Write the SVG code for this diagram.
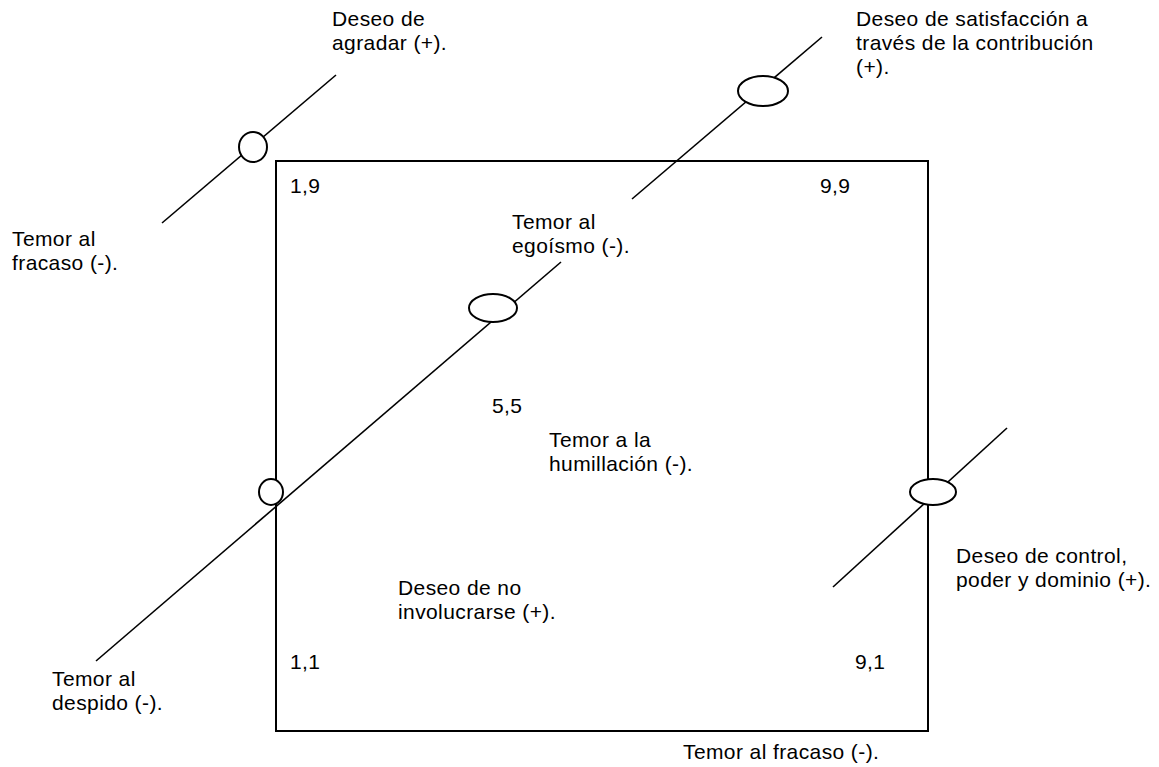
<svg xmlns="http://www.w3.org/2000/svg" width="1159" height="767" viewBox="0 0 1159 767">
<style>
text{font-family:"Liberation Sans",Arial,sans-serif;font-size:21px;letter-spacing:0.4px;fill:#000}
.ln{stroke:#000;stroke-width:1.6;fill:none}
.bx{stroke:#000;stroke-width:2;fill:none}
.el{stroke:#000;stroke-width:2;fill:#fff}
</style>
<rect width="1159" height="767" fill="#fff"/>
<g id="grid">
<rect class="bx" x="276" y="161" width="652" height="570"/>
</g>
<g id="connectors">
<line class="ln" x1="162" y1="223" x2="336" y2="75"/>
<line class="ln" x1="96" y1="661" x2="561" y2="262"/>
<line class="ln" x1="632" y1="199" x2="822" y2="37"/>
<line class="ln" x1="833" y1="587" x2="1007" y2="428"/>
</g>
<g id="node-agradar"><ellipse class="el" cx="253" cy="147" rx="14" ry="15"/></g>
<g id="node-contribucion"><ellipse class="el" cx="763" cy="91" rx="25" ry="15"/></g>
<g id="node-55"><ellipse class="el" cx="493" cy="308" rx="24" ry="14"/></g>
<g id="node-despido"><ellipse class="el" cx="271" cy="492" rx="12" ry="13"/></g>
<g id="node-control"><ellipse class="el" cx="933" cy="492" rx="23" ry="13"/></g>
<g id="labels">
<text x="332" y="26">Deseo de</text>
<text x="332" y="50">agradar (+).</text>
<text x="856" y="26">Deseo de satisfacción a</text>
<text x="856" y="50">través de la contribución</text>
<text x="856" y="74">(+).</text>
<text x="290" y="193">1,9</text>
<text x="820" y="193">9,9</text>
<text x="12" y="246">Temor al</text>
<text x="12" y="270">fracaso (-).</text>
<text x="512" y="229">Temor al</text>
<text x="512" y="253">egoísmo (-).</text>
<text x="492" y="413">5,5</text>
<text x="549" y="447">Temor a la</text>
<text x="549" y="471">humillación (-).</text>
<text x="956" y="563">Deseo de control,</text>
<text x="956" y="587">poder y dominio (+).</text>
<text x="398" y="595">Deseo de no</text>
<text x="398" y="619">involucrarse (+).</text>
<text x="52" y="686">Temor al</text>
<text x="52" y="710">despido (-).</text>
<text x="290" y="669">1,1</text>
<text x="855" y="669">9,1</text>
<text x="683" y="759">Temor al fracaso (-).</text>
</g>
</svg>
